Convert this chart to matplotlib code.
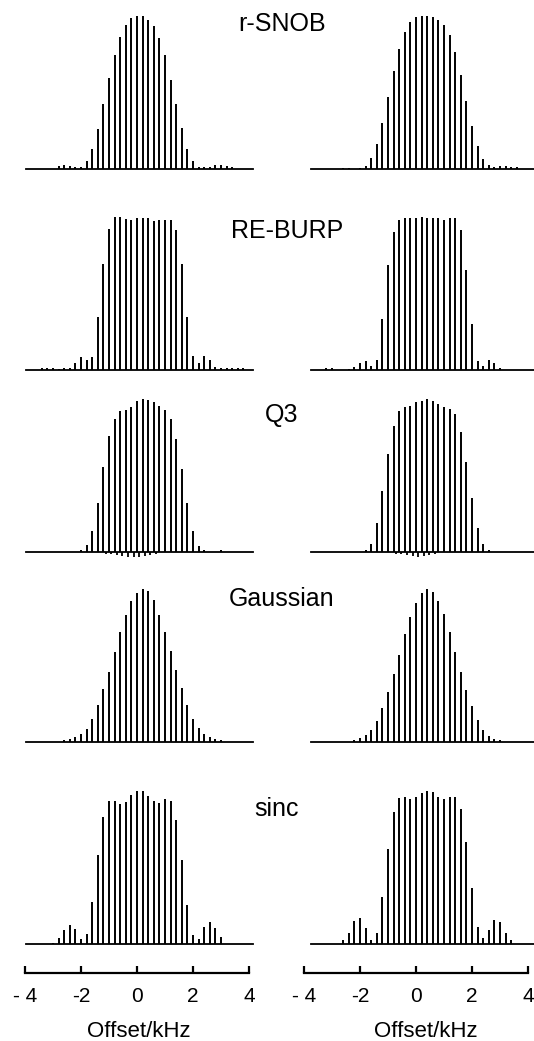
import numpy as np
import matplotlib.pyplot as plt

plt.rcParams['font.family'] = ['Liberation Sans', 'DejaVu Sans']

step = 0.2  # kHz between excitation lines

pulses = ['r-SNOB', 'RE-BURP', 'Q3', 'Gaussian', 'sinc']

# index of first line (in steps of 0.2 kHz) and relative line heights
snob_left_start = -14
snob_left = [0.015, 0.02, 0.015, 0.01, 0.01, 0.05, 0.13, 0.26, 0.42, 0.59, 0.74,
             0.86, 0.94, 0.985, 1.0, 1.0, 0.97, 0.93, 0.85, 0.74, 0.58, 0.42,
             0.265, 0.13, 0.05, 0.01, 0.01, 0.01, 0.02, 0.02, 0.015, 0.01]
snob_right_start = -13
snob_right = [0.005, 0.005, 0.0, 0.005, 0.015, 0.07, 0.16, 0.30, 0.47, 0.64, 0.78,
              0.89, 0.96, 0.99, 1.0, 1.0, 0.99, 0.97, 0.94, 0.87, 0.76, 0.61,
              0.44, 0.28, 0.145, 0.06, 0.02, 0.01, 0.015, 0.015, 0.01, 0.01]

reburp_left_start = -17
reburp_left = [0.01, 0.01, 0.01, 0.005, 0.01, 0.01, 0.04, 0.08, 0.06, 0.08, 0.34,
               0.69, 0.92, 1.0, 0.995, 0.985, 0.98, 0.99, 0.99, 0.99, 0.97, 0.98,
               0.98, 0.98, 0.91, 0.69, 0.34, 0.086, 0.04, 0.09, 0.065, 0.015,
               0.01, 0.01, 0.01, 0.01, 0.01]
reburp_right_start = -16
reburp_right = [0.01, 0.01, 0.0, 0.0, 0.005, 0.015, 0.045, 0.055, 0.02, 0.06, 0.33,
                0.68, 0.90, 0.98, 0.99, 0.99, 0.99, 1.0, 0.99, 0.99, 0.99, 0.98,
                0.99, 0.99, 0.91, 0.65, 0.30, 0.055, 0.025, 0.06, 0.04, 0.01]

q3_left_start = -10
q3_left = [0.015, 0.045, 0.14, 0.32, 0.555, 0.755, 0.87, 0.92, 0.93, 0.95, 0.985,
           1.0, 0.995, 0.98, 0.955, 0.93, 0.87, 0.74, 0.545, 0.32, 0.135, 0.04,
           0.01, 0.0, 0.0, 0.01]
q3_right_start = -9
q3_right = [0.015, 0.055, 0.19, 0.40, 0.64, 0.825, 0.92, 0.95, 0.955, 0.98, 0.99,
            1.0, 0.985, 0.97, 0.945, 0.935, 0.90, 0.785, 0.585, 0.35, 0.155,
            0.05, 0.01]
# small negative dispersive lobes seen under the Q3 lines
q3_left_dips = [-0.01, -0.015, -0.02, -0.025, -0.03, -0.035, -0.03, -0.025,
                -0.02, -0.015]
q3_left_dips_start = -6
q3_right_dips = [-0.01, -0.015, -0.02, -0.025, -0.03, -0.025, -0.02, -0.015]
q3_right_dips_start = -4

gauss_left_start = -13
gauss_left = [0.01, 0.02, 0.03, 0.05, 0.085, 0.15, 0.24, 0.345, 0.46, 0.59, 0.72,
              0.83, 0.92, 0.975, 1.0, 0.985, 0.93, 0.83, 0.72, 0.595, 0.47, 0.35,
              0.245, 0.15, 0.09, 0.05, 0.03, 0.02, 0.01]
gauss_right_start = -11
gauss_right = [0.015, 0.025, 0.045, 0.08, 0.135, 0.225, 0.325, 0.445, 0.57,
               0.705, 0.815, 0.91, 0.975, 1.0, 0.98, 0.92, 0.835, 0.72, 0.59,
               0.46, 0.34, 0.235, 0.145, 0.08, 0.04, 0.02, 0.01]

sinc_left_start = -15
sinc_left = [0.005, 0.035, 0.09, 0.12, 0.095, 0.03, 0.06, 0.27, 0.58, 0.825, 0.93,
             0.93, 0.915, 0.925, 0.97, 1.0, 1.0, 0.965, 0.93, 0.92, 0.945, 0.93,
             0.81, 0.545, 0.25, 0.055, 0.03, 0.105, 0.14, 0.10, 0.045]
sinc_right_start = -13
sinc_right = [0.02, 0.07, 0.145, 0.165, 0.10, 0.025, 0.07, 0.305, 0.62, 0.86, 0.95,
              0.955, 0.945, 0.955, 0.985, 1.0, 0.99, 0.955, 0.945, 0.955, 0.955,
              0.88, 0.665, 0.36, 0.11, 0.035, 0.09, 0.155, 0.14, 0.07, 0.02]

tick_vals = [-4, -2, 0, 2, 4]
tick_labels = ['- 4', '-2', '0', '2', '4']

spectra = {
    'r-SNOB': [(snob_left_start, snob_left), (snob_right_start, snob_right)],
    'RE-BURP': [(reburp_left_start, reburp_left), (reburp_right_start, reburp_right)],
    'Q3': [(q3_left_start, q3_left), (q3_right_start, q3_right)],
    'Gaussian': [(gauss_left_start, gauss_left), (gauss_right_start, gauss_right)],
    'sinc': [(sinc_left_start, sinc_left), (sinc_right_start, sinc_right)],
}
dips = [(q3_left_dips_start, q3_left_dips), (q3_right_dips_start, q3_right_dips)]

# layout in pixels
W, H = 534, 1041
col_x = [25, 304]           # pixel of -4 kHz in each column
col_w = 224                 # pixels for 8 kHz
base_span = [(-3.95, 4.15), (-3.75, 4.6)]
row_base = [168.5, 369.5, 552, 742, 943.5]
unit_h = 153
label_x = [282, 287, 282, 281.5, 277]
label_base = [31, 238, 422, 606, 816]

fig = plt.figure(figsize=(W / 100, H / 100), dpi=100)

for r, name in enumerate(pulses):
    for c in range(2):
        ax = fig.add_axes([col_x[c] / W, 1 - row_base[r] / H, col_w / W, unit_h / H])
        ax.set_xlim(-4, 4)
        ax.set_ylim(0, 1)
        ax.axis('off')
        start, heights = spectra[name][c]
        offs = (start + np.arange(len(heights))) * step
        ax.vlines(offs, 0, heights, color='black', lw=1.4, clip_on=False)
        ax.plot(base_span[c], [0, 0], color='black', lw=1.3, clip_on=False)
        if name == 'Q3':
            dstart, dh = dips[c]
            doffs = (dstart + np.arange(len(dh))) * step + 0.08
            ax.vlines(doffs, 0, dh, color='black', lw=1.3, clip_on=False)
    fig.text(label_x[r] / W, 1 - label_base[r] / H, name, ha='center',
             va='baseline', fontsize=18)

# offset scale bars
xlabel_pos = [(139 - 25) / col_w, (426 - 304) / col_w]
for c in range(2):
    sax = fig.add_axes([col_x[c] / W, 1 - 973 / H, col_w / W, 8 / H])
    sax.set_xlim(-4, 4)
    sax.set_ylim(0, 1)
    for s in ['top', 'left', 'right']:
        sax.spines[s].set_visible(False)
    sax.spines['bottom'].set_linewidth(1.6)
    sax.set_yticks([])
    sax.set_xticks(tick_vals)
    sax.set_xticklabels(tick_labels, fontsize=15)
    sax.tick_params(axis='x', direction='in', length=5, width=1.6, pad=10)
    sax.set_xlabel('Offset/kHz', fontsize=16)
    sax.xaxis.set_label_coords(xlabel_pos[c], -6.0)
    sax.patch.set_visible(False)

fig.savefig('out.png', dpi=100)
